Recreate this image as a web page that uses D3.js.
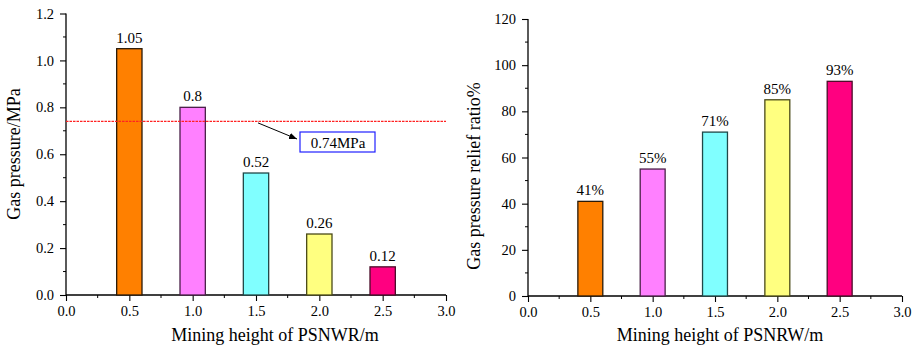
<!DOCTYPE html>
<html><head><meta charset="utf-8">
<script src="https://cdn.jsdelivr.net/npm/d3@7"></script>
<style>body{margin:0;background:#fff}svg{display:block}text{font-family:"Liberation Serif","Times New Roman",serif;fill:#000}</style>
</head><body>
<svg id="c" width="917" height="351"></svg>
<script>
const heights = [0.5, 1.0, 1.5, 2.0, 2.5];
const pressure = [1.05, 0.8, 0.52, 0.26, 0.12];
const pressureLabels = ["1.05", "0.8", "0.52", "0.26", "0.12"];
const reliefRatio = [41, 55, 71, 85, 93];
const reliefLabels = ["41%", "55%", "71%", "85%", "93%"];
const fills = ["#FF8000", "#FF80FF", "#80FFFF", "#FFFF80", "#FF0080"];
const strokes = ["#2a1a08", "#4a2048", "#204848", "#4a4a18", "#4a0c28"];
const threshold = 0.74;
const thresholdLabel = "0.74MPa";
const xTicks = [0, 0.5, 1.0, 1.5, 2.0, 2.5, 3.0];

const svg = d3.select("#c");

function panel(o) {
  const g = svg.append("g");
  const x = d3.scaleLinear().domain([0, 3]).range([o.x0, o.x1]);
  const y = d3.scaleLinear().domain([0, o.ymax]).range([o.y0, o.y1]);
  const xMinor = d3.range(0, 3.001, 0.25).filter(v => Math.abs(v*2 - Math.round(v*2)) > 1e-6);
  g.selectAll(".xm").data(xMinor).join("line")
    .attr("x1", d => x(d)).attr("x2", d => x(d)).attr("y1", o.y0).attr("y2", o.y0 + 3)
    .attr("stroke", "#000").attr("stroke-width", 1);
  const yMinor = d3.range(o.ystep/2, o.ymax, o.ystep);
  g.selectAll(".ym").data(yMinor).join("line")
    .attr("y1", d => y(d)).attr("y2", d => y(d)).attr("x1", o.x0).attr("x2", o.x0 - 3)
    .attr("stroke", "#000").attr("stroke-width", 1);
  const xa = g.append("g").attr("transform", `translate(0,${o.y0})`)
    .call(d3.axisBottom(x).tickValues(xTicks).tickFormat(d3.format(".1f")).tickSize(6).tickPadding(5));
  const ya = g.append("g").attr("transform", `translate(${o.x0},0)`)
    .call(d3.axisLeft(y).tickValues(d3.range(0, o.ymax + 1e-9, o.ystep)).tickFormat(o.yfmt).tickSize(6).tickPadding(6));
  [xa, ya].forEach(a => {
    a.attr("font-family", null);
    a.select(".domain").attr("stroke", "#000").attr("stroke-width", 1.3);
    a.selectAll(".tick line").attr("stroke", "#000").attr("stroke-width", 1.1);
    a.selectAll("text").style("font-family", '"Liberation Serif",serif').style("font-size", "14.5px").attr("fill", "#000");
  });
  xa.select(".domain").attr("d", `M${o.x0},0H${o.x1}`);
  ya.select(".domain").attr("d", `M0,${o.y0}V${o.y1}`);
  const bw = x(0.2) - x(0);
  g.selectAll(".bar").data(o.values).join("rect")
    .attr("x", (d, i) => x(heights[i]) - bw/2)
    .attr("y", d => y(d))
    .attr("width", bw)
    .attr("height", d => y(0) - y(d))
    .attr("fill", (d, i) => fills[i])
    .attr("stroke", (d, i) => strokes[i])
    .attr("stroke-width", 1.3);
  g.selectAll(".lbl").data(o.values).join("text")
    .attr("x", (d, i) => x(heights[i]))
    .attr("y", d => y(d) - 6)
    .attr("text-anchor", "middle")
    .style("font-size", "15px")
    .text((d, i) => o.labels[i]);
  g.append("text").attr("x", o.xtx).attr("y", 341)
    .attr("text-anchor", "middle").style("font-size", "18px").text(o.xtitle);
  g.append("text").attr("transform", `translate(${o.ylx},${o.yly}) rotate(-90)`)
    .attr("text-anchor", "middle").style("font-size", "18px").text(o.ytitle);
  return {g, x, y};
}

const L = panel({x0: 66, x1: 446, y0: 295, y1: 13.5, ymax: 1.2, ystep: 0.2,
  yfmt: d3.format(".1f"), values: pressure, labels: pressureLabels, xtx: 275,
  xtitle: "Mining height of PSNWR/m", ytitle: "Gas pressure/MPa", ylx: 20, yly: 154});

L.g.append("line").attr("x1", L.x(0)).attr("x2", L.x(3))
  .attr("y1", L.y(threshold)).attr("y2", L.y(threshold))
  .attr("stroke", "#FF2222").attr("stroke-width", 1.2).attr("stroke-dasharray", "2.5,1");
svg.append("defs").append("marker").attr("id", "ah").attr("viewBox", "0 0 10 10")
  .attr("refX", 10).attr("refY", 5).attr("markerWidth", 8).attr("markerHeight", 8)
  .attr("markerUnits", "userSpaceOnUse").attr("orient", "auto")
  .append("path").attr("d", "M0,1L10,5L0,9z").attr("fill", "#000");
L.g.append("line").attr("x1", 258).attr("y1", L.y(threshold) + 1.5).attr("x2", 297).attr("y2", 139)
  .attr("stroke", "#000").attr("stroke-width", 1).attr("marker-end", "url(#ah)");
L.g.append("rect").attr("x", 300).attr("y", 132).attr("width", 75).attr("height", 20)
  .attr("fill", "#fff").attr("stroke", "#2020FF").attr("stroke-width", 1.2);
L.g.append("text").attr("x", 338).attr("y", 147.5).attr("text-anchor", "middle")
  .style("font-size", "15px").text(thresholdLabel);

panel({x0: 528, x1: 902, y0: 296, y1: 19, ymax: 120, ystep: 20,
  yfmt: d3.format("d"), values: reliefRatio, labels: reliefLabels, xtx: 720,
  xtitle: "Mining height of PSNRW/m", ytitle: "Gas pressure relief ratio%", ylx: 480, yly: 176});
</script>
</body></html>
